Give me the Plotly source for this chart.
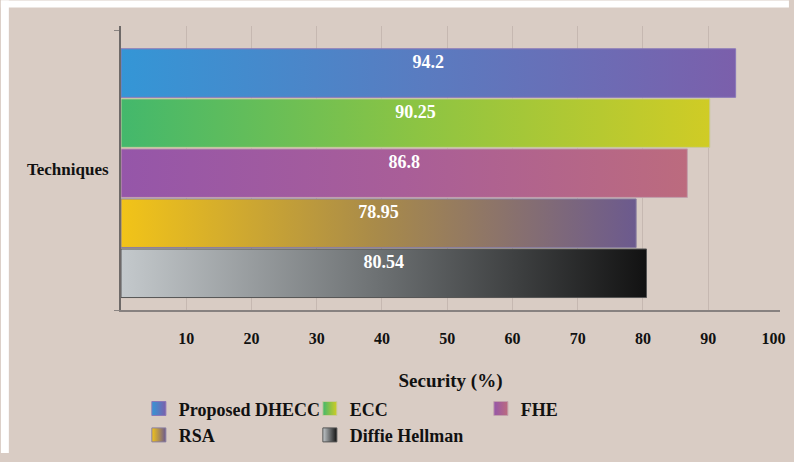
import plotly.graph_objects as go

# ---- data ----
techniques = ["Proposed DHECC", "ECC", "FHE", "RSA", "Diffie Hellman"]
security = [94.2, 90.25, 86.8, 78.95, 80.54]
value_labels = ["94.2", "90.25", "86.8", "78.95", "80.54"]
x_ticks = [10, 20, 30, 40, 50, 60, 70, 80, 90, 100]
grid_vals = [10, 20, 30, 40, 50, 60, 70, 80, 90]

# gradient colours (left -> right)
grad_left = ["#3496d6", "#43b86c", "#9556a9", "#f2c418", "#c4c9cc"]
grad_mid = ["#5a7bc0", "#8cc443", "#a95e98", "#a88a4a", "#6b6f71"]
grad_right = ["#7b5fab", "#d0cc25", "#bc6b7e", "#6c5a8e", "#121212"]
edge_cols = ["#8a78b8", "#c9c9a0", "#c2a0ac", "#8a7fa0", "#555555"]

BG = "#d9ccc4"
SERIF = "Liberation Serif"
n = len(techniques)
half = 0.485
y_lo, y_hi = -0.734, n - 1 + 0.94

fig = go.Figure()

# bars (gradient-filled areas), top category first
for i, (name, v) in enumerate(zip(techniques, security)):
    yc = n - 1 - i
    fig.add_trace(go.Scatter(
        x=[0, v, v, 0, 0],
        y=[yc - half, yc - half, yc + half, yc + half, yc - half],
        mode="lines", fill="toself",
        line=dict(color=edge_cols[i], width=1),
        fillgradient=dict(type="horizontal",
                          colorscale=[[0, grad_left[i]], [0.5, grad_mid[i]], [1, grad_right[i]]]),
        showlegend=False, hoverinfo="skip",
    ))

# value labels
fig.add_trace(go.Scatter(
    x=[v / 2 for v in security],
    y=[n - 1 - i + 0.2 for i in range(n)],
    mode="text", text=value_labels,
    textfont=dict(family=SERIF, size=18, color="white", weight="bold"),
    showlegend=False, hoverinfo="skip",
))

# legend entries (plotly marker gradient: marker colour on the left, gradient colour on the right)
for i, name in enumerate(techniques):
    fig.add_trace(go.Scatter(
        x=[None], y=[None], mode="markers", name=name,
        marker=dict(symbol="square", size=14, color=grad_left[i],
                    gradient=dict(type="horizontal", color=grad_right[i]),
                    line=dict(color=edge_cols[i], width=1)),
    ))

# invisible trace on the grid axis
fig.add_trace(go.Scatter(x=[None], y=[None], xaxis="x2", showlegend=False, hoverinfo="skip"))

W, H = 794, 462
ml, mr, mt, mb = 121, 9, 26, 146
pw, ph = W - ml - mr, H - mt - mb

fig.update_layout(
    width=W, height=H,
    margin=dict(l=ml, r=mr, t=mt, b=mb, pad=0),
    paper_bgcolor=BG, plot_bgcolor=BG,
    font=dict(family=SERIF, color="#111111"),
    showlegend=True,
    legend=dict(orientation="h", x=(139 - ml) / pw, xanchor="left",
                y=(mt + ph - 398) / ph, yanchor="top",
                entrywidth=126, entrywidthmode="pixels",
                font=dict(family=SERIF, size=18, color="#111111", weight="bold"),
                bgcolor="rgba(0,0,0,0)", tracegroupgap=0),
    xaxis=dict(range=[0, 101], tickmode="array", tickvals=x_ticks,
               showgrid=False, zeroline=False, showline=True,
               linecolor="#878180", linewidth=2,
               ticks="", ticklabelstandoff=13,
               tickfont=dict(family=SERIF, size=16, color="#111111", weight="bold"),
               title=dict(text="Security (%)", standoff=27,
                          font=dict(family=SERIF, size=19, color="#111111", weight="bold"))),
    xaxis2=dict(overlaying="x", matches="x", tickmode="array", tickvals=grid_vals,
                showgrid=True, gridcolor="#c6b8b1", gridwidth=1,
                showticklabels=False, ticks="", zeroline=False, showline=False),
    yaxis=dict(range=[y_lo, y_hi], showticklabels=False, showgrid=False,
               zeroline=False, showline=True, linecolor="#6e6968", linewidth=2,
               tickmode="array", tickvals=[y_lo, y_hi - 0.08], ticks="outside",
               ticklen=5, tickwidth=1, tickcolor="#8a8482"),
    annotations=[dict(text="Techniques", xref="paper", yref="paper",
                      x=(68 - ml) / pw, y=(mt + ph - 173) / ph, xanchor="center", yanchor="middle",
                      showarrow=False,
                      font=dict(family=SERIF, size=17, color="#111111", weight="bold"))],
    shapes=[
        dict(type="rect", xref="paper", yref="paper", layer="below",
             x0=-ml / pw, x1=(W - ml) / pw, y0=(mt + ph - 7) / ph, y1=(mt + ph) / ph,
             fillcolor="white", line=dict(width=0)),
        dict(type="rect", xref="paper", yref="paper", layer="below",
             x0=-ml / pw, x1=(8 - ml) / pw, y0=(mt + ph - H) / ph, y1=(mt + ph) / ph,
             fillcolor="white", line=dict(width=0)),
    ],
)

fig.write_html("out.html")
